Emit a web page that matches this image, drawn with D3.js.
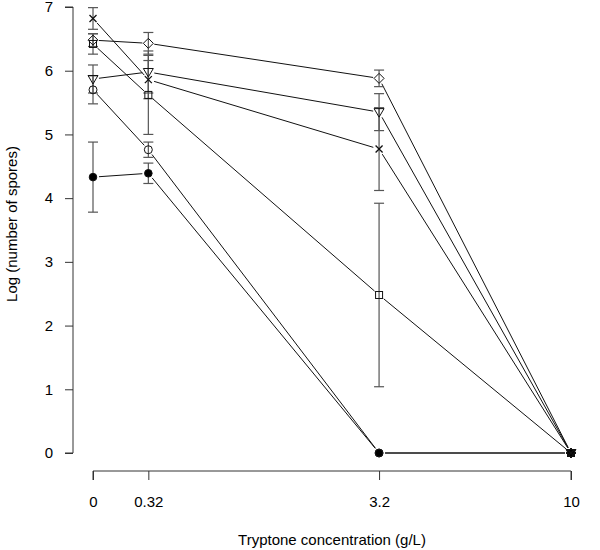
<!DOCTYPE html>
<html><head><meta charset="utf-8">
<script src="https://cdn.jsdelivr.net/npm/d3@7"></script>
<style>body{margin:0;background:#fff}svg{display:block}text{font-family:"Liberation Sans",Arial,sans-serif;fill:#000}</style>
</head><body><div id="chart"></div>
<script>
const concentrations = [0, 0.32, 3.2, 10];
const tickLabels = ["0", "0.32", "3.2", "10"];
const yTicks = [0, 1, 2, 3, 4, 5, 6, 7];
const filledCircle = [4.33, 4.39, 0, 0];
const filledCircleErr = [0.55, 0.16, 0, 0];
const openCircle = [5.70, 4.76, 0, 0];
const openCircleErr = [0.22, 0.12, 0, 0];
const square = [6.42, 5.62, 2.48, 0];
const squareErr = [0.16, 0.62, 1.44, 0];
const triangleDown = [5.87, 5.98, 5.35, 0];
const triangleDownErr = [0.22, 0.33, 0.29, 0];
const crossX = [6.82, 5.86, 4.77, 0];
const crossXErr = [0.17, 0.3, 0.65, 0];
const diamond = [6.48, 6.43, 5.88, 0];
const diamondErr = [0.1, 0.17, 0.13, 0];

const series = [
  {shape: "filledCircle", values: filledCircle, err: filledCircleErr},
  {shape: "openCircle", values: openCircle, err: openCircleErr},
  {shape: "square", values: square, err: squareErr},
  {shape: "triangleDown", values: triangleDown, err: triangleDownErr},
  {shape: "cross", values: crossX, err: crossXErr},
  {shape: "diamond", values: diamond, err: diamondErr}
];

const W = 600, H = 550;
const FS = 15;
const svg = d3.select("#chart").append("svg").attr("width", W).attr("height", H);
const x = d3.scaleSymlog().constant(1).domain([0, 10]).range([93, 571]);
const y = d3.scaleLinear().domain([0, 7]).range([453, 7]);

// y axis
const yAxis = svg.append("g").attr("transform", "translate(73,0)")
  .call(d3.axisLeft(y).tickValues(yTicks).tickSize(8).tickPadding(12).tickFormat(d3.format("d")));
yAxis.selectAll("path,line").attr("stroke", "#333");
yAxis.select(".domain").attr("d", `M-8,${y(0)}H0V${y(7)}H-8`);
yAxis.selectAll("text").attr("font-size", FS).style("font-family", '"Liberation Sans",Arial,sans-serif');

// x axis
const xAxis = svg.append("g").attr("transform", "translate(0,471)")
  .call(d3.axisBottom(x).tickValues(concentrations).tickSize(9).tickPadding(16).tickFormat((d, i) => tickLabels[i]));
xAxis.selectAll("path,line").attr("stroke", "#333");
xAxis.select(".domain").attr("d", `M${x(0)},9V0H${x(10)}V9`);
xAxis.selectAll("text").attr("font-size", FS).style("font-family", '"Liberation Sans",Arial,sans-serif');

svg.append("text").attr("x", 332).attr("y", 545).attr("text-anchor", "middle").attr("font-size", FS)
  .text("Tryptone concentration (g/L)");
svg.append("text").attr("transform", `translate(17,224) rotate(-90)`).attr("text-anchor", "middle")
  .attr("font-size", FS).text("Log (number of spores)");

const plot = svg.append("g");
const gap = 6;
// connecting lines with gaps
series.forEach(s => {
  for (let i = 0; i < concentrations.length - 1; i++) {
    const x1 = x(concentrations[i]), y1 = y(s.values[i]);
    const x2 = x(concentrations[i + 1]), y2 = y(s.values[i + 1]);
    const dx = x2 - x1, dy = y2 - y1, len = Math.hypot(dx, dy);
    if (len < 2 * gap) continue;
    const ux = dx / len, uy = dy / len;
    plot.append("line").attr("x1", x1 + ux * gap).attr("y1", y1 + uy * gap)
      .attr("x2", x2 - ux * gap).attr("y2", y2 - uy * gap)
      .attr("stroke", "#111").attr("stroke-width", 1);
  }
});
// error bars
series.forEach(s => {
  s.values.forEach((v, i) => {
    const e = s.err[i];
    if (!e) return;
    const cx = x(concentrations[i]);
    plot.append("line").attr("x1", cx).attr("x2", cx).attr("y1", y(v - e)).attr("y2", y(v + e))
      .attr("stroke", "#555").attr("stroke-width", 1.2);
    [v - e, v + e].forEach(t => plot.append("line").attr("x1", cx - 5).attr("x2", cx + 5)
      .attr("y1", y(t)).attr("y2", y(t)).attr("stroke", "#555").attr("stroke-width", 1.2));
  });
});
// markers
series.forEach(s => {
  s.values.forEach((v, i) => {
    const cx = x(concentrations[i]), cy = y(v);
    const g = plot.append("g").attr("transform", `translate(${cx},${cy})`);
    const st = {stroke: "#111", "stroke-width": 1, fill: "none"};
    let el;
    switch (s.shape) {
      case "filledCircle": el = g.append("circle").attr("r", 3.8); st.fill = "#000"; break;
      case "openCircle": el = g.append("circle").attr("r", 4); break;
      case "square": el = g.append("rect").attr("x", -3.5).attr("y", -3.5).attr("width", 7).attr("height", 7); break;
      case "triangleDown": el = g.append("path").attr("d", "M-5,-3.5L5,-3.5L0,5Z"); break;
      case "cross": el = g.append("path").attr("d", "M-3.5,-3.5L3.5,3.5M-3.5,3.5L3.5,-3.5"); st["stroke-width"] = 1.3; break;
      case "diamond": el = g.append("path").attr("d", "M0,-5L5,0L0,5L-5,0Z"); break;
    }
    Object.entries(st).forEach(([k, val]) => el.attr(k, val));
  });
});
</script></body></html>
